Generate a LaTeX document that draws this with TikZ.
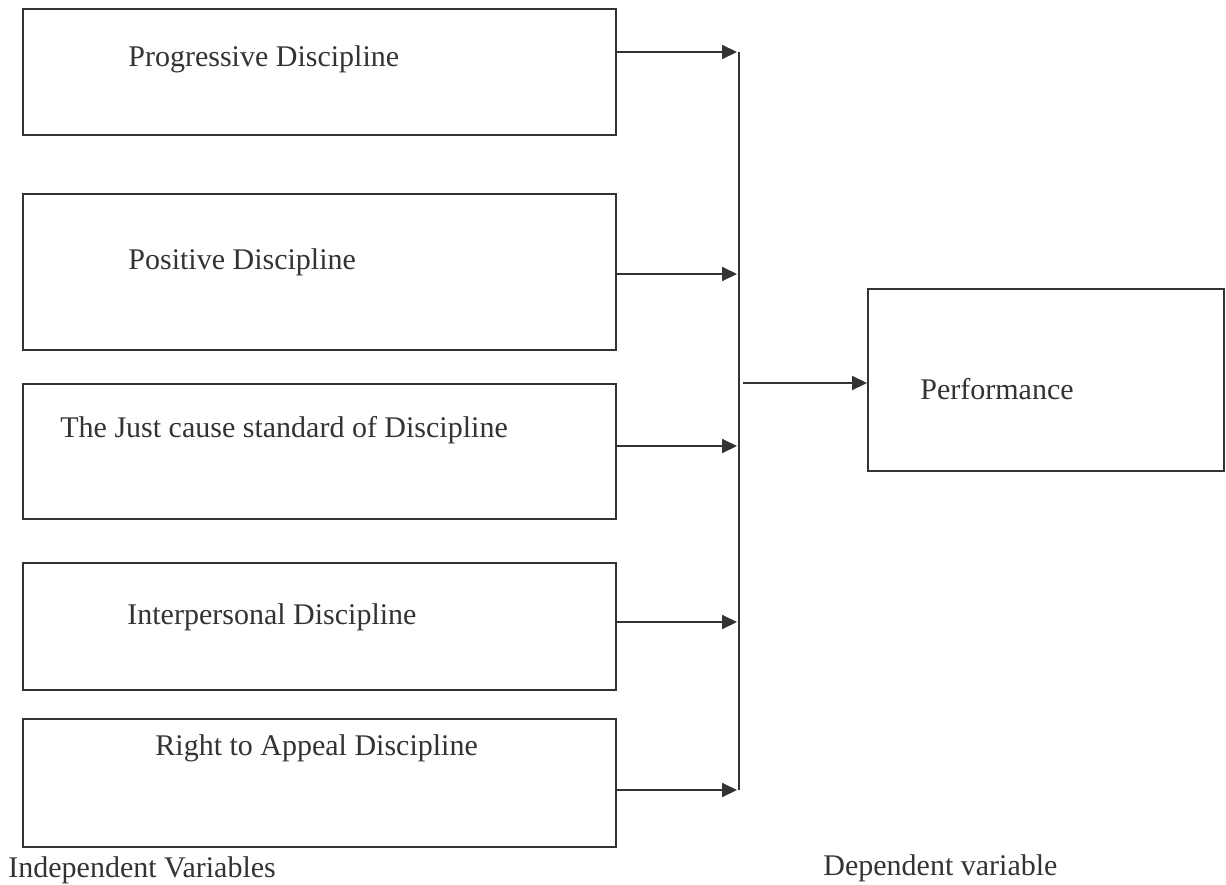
\documentclass[tikz,border=0pt]{standalone}
\usepackage{fontspec}
\setmainfont{Liberation Serif}
\usetikzlibrary{arrows.meta}
\definecolor{ink}{HTML}{333333}
\tikzset{
  box/.style={draw=ink, line width=1pt, rectangle, inner sep=0pt, anchor=north west},
  txt/.style={inner sep=0pt, anchor=base west, text=ink, font=\fontsize{15}{18}\selectfont},
  arr/.style={draw=ink, line width=1pt, -{Triangle[length=7.5pt,width=7pt]}},
  ln/.style={draw=ink, line width=1pt}
}
\begin{document}
\begin{tikzpicture}[x=0.5pt,y=-0.5pt]
\useasboundingbox[fill=white] (0,0) rectangle (1226,884);
% boxes
\node[box, minimum width=296.5pt, minimum height=63pt] (b1) at (22,8) {};
\node[box, minimum width=296.5pt, minimum height=78pt] (b2) at (22,193) {};
\node[box, minimum width=296.5pt, minimum height=67.5pt] (b3) at (22,383) {};
\node[box, minimum width=296.5pt, minimum height=63.5pt] (b4) at (22,562) {};
\node[box, minimum width=296.5pt, minimum height=64pt] (b5) at (22,718) {};
\node[box, minimum width=178pt, minimum height=91pt] (perf) at (867,288) {};
% texts
\node[txt] (t1) at (128,66) {Progressive Discipline};
\node[txt] (t2) at (128,269) {Positive Discipline};
\node[txt] (t3) at (60,437) {The Just cause standard of Discipline};
\node[txt] (t4) at (127,624) {Interpersonal Discipline};
\node[txt] (t5) at (155,755) {Right to Appeal Discipline};
\node[txt] (tp) at (920,399) {Performance};
\node[txt] (li) at (8,877) {Independent Variables};
\node[txt] (ld) at (823,875) {Dependent variable};
% junction coordinates
\coordinate (j1) at (737,52);
\coordinate (j2) at (737,274);
\coordinate (j3) at (737,446);
\coordinate (j4) at (737,622);
\coordinate (j5) at (737,790);
\coordinate (vtop) at (739,52);
\coordinate (vbot) at (739,790);
\coordinate (jo) at (743,383);
% connectors
\draw[arr] (b1.east |- j1) -- (j1);
\draw[arr] (b2.east |- j2) -- (j2);
\draw[arr] (b3.east |- j3) -- (j3);
\draw[arr] (b4.east |- j4) -- (j4);
\draw[arr] (b5.east |- j5) -- (j5);
\draw[ln] (vtop) -- (vbot);
\draw[arr] (jo) -- (perf.west |- jo);
\end{tikzpicture}
\end{document}
